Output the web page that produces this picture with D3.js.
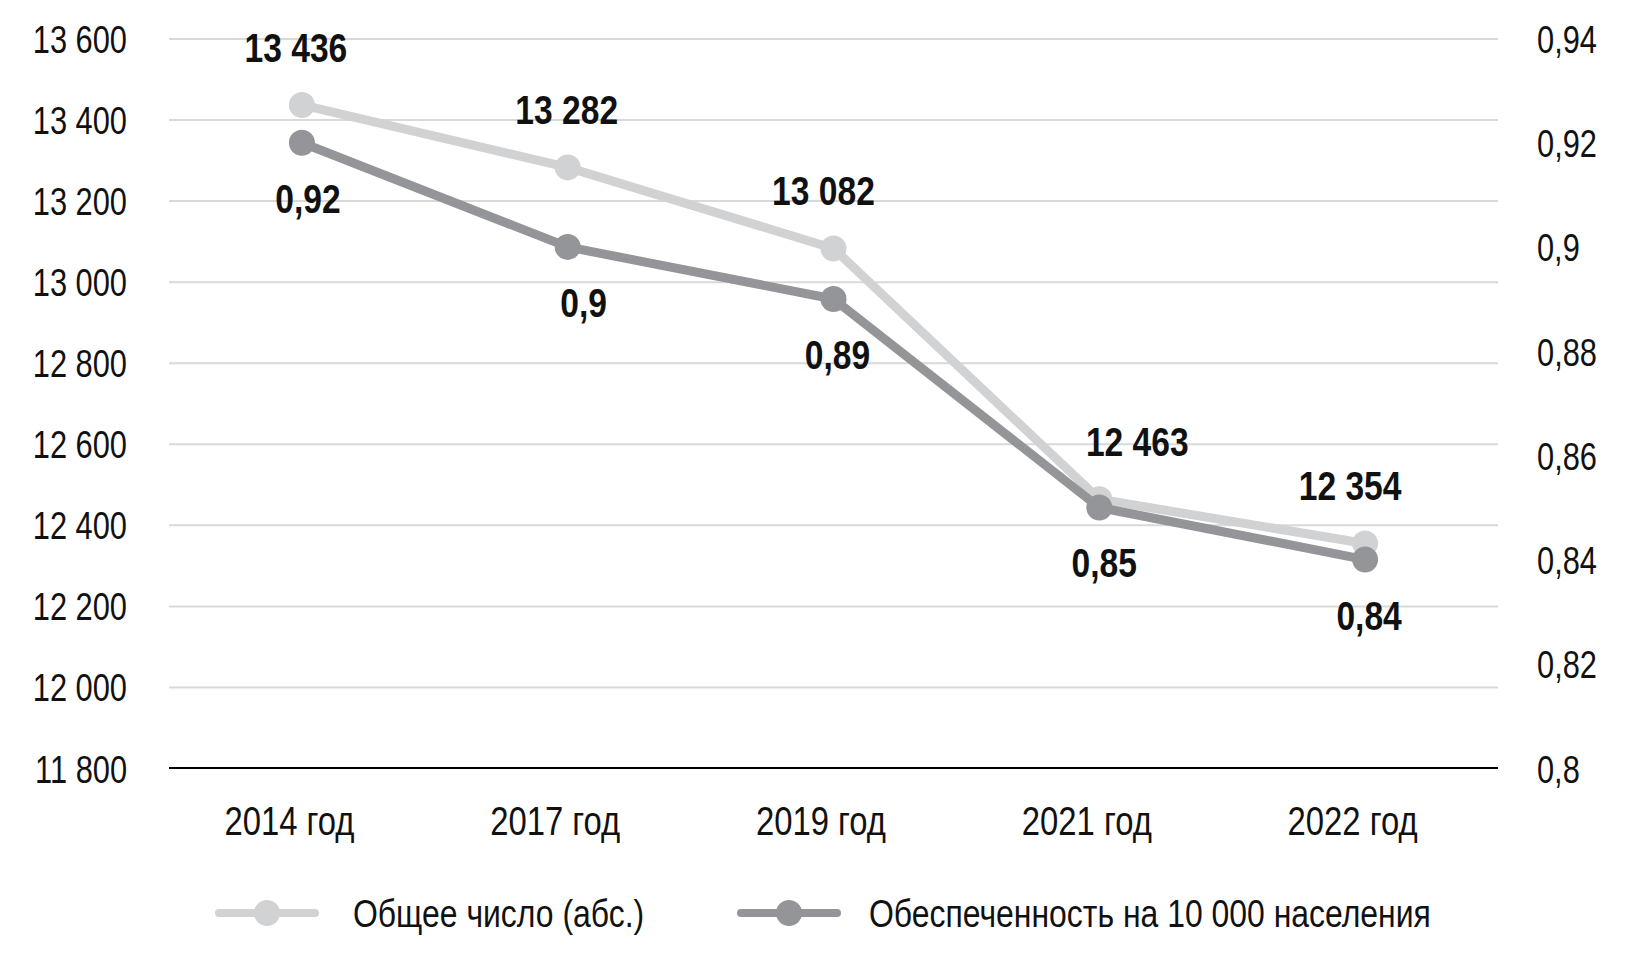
<!DOCTYPE html>
<html>
<head>
<meta charset="utf-8">
<script src="https://cdn.jsdelivr.net/npm/d3@7"></script>
<style>
  body { margin: 0; background: #fff; }
  svg { display: block; font-family: "Liberation Sans", Arial, sans-serif; }
</style>
</head>
<body>
<svg id="chart" width="1626" height="965"></svg>
<script>
// data
const years = ['2014 год', '2017 год', '2019 год', '2021 год', '2022 год'];
const totalCount = [13436, 13282, 13082, 12463, 12354];
const perTenThousand = [0.92, 0.9, 0.89, 0.85, 0.84];
const leftTicks = [11800, 12000, 12200, 12400, 12600, 12800, 13000, 13200, 13400, 13600];
const rightTicks = [0.8, 0.82, 0.84, 0.86, 0.88, 0.9, 0.92, 0.94];
const seriesNames = ['Общее число (абс.)', 'Обеспеченность на 10 000 населения'];

// label nudges, as placed in the original
const totalLabelDx = [-6, -1, -10, 38, -15];
const rateLabelDx = [6, 16, 4, 5, 4];

const colors = { total: '#d1d2d4', rate: '#939598', grid: '#d9d9d9' };

const ru = d3.formatLocale({ decimal: ',', thousands: '\u00a0', grouping: [3], currency: ['', ''] });
const fmtInt = ru.format(',');
const fmtDec = ru.format('~g');

const svg = d3.select('#chart');
const margin = { top: 38.5, right: 128, bottom: 197, left: 169 };
const width = 1626 - margin.left - margin.right;
const height = 965 - margin.top - margin.bottom;

const g = svg.append('g')
  .attr('transform', `translate(${margin.left},${margin.top})`);

const x = d3.scalePoint().domain(years).range([0, width]).padding(0.5);
const yLeft = d3.scaleLinear().domain([11800, 13600]).range([height, 0]);
const yRight = d3.scaleLinear().domain([0.8, 0.94]).range([height, 0]);

const plain = s => s.attr('font-family', null).attr('font-size', null);

// gridlines
g.append('g')
  .attr('class', 'grid')
  .call(d3.axisLeft(yLeft).tickValues(leftTicks.slice(1)).tickSize(-width).tickFormat(''))
  .call(s => s.select('.domain').remove())
  .call(s => s.selectAll('line').attr('stroke', colors.grid).attr('stroke-width', 2));

// left axis labels
g.append('g')
  .call(d3.axisLeft(yLeft).tickValues(leftTicks).tickSize(0).tickPadding(42).tickFormat(fmtInt))
  .call(plain)
  .call(s => s.select('.domain').remove())
  .call(s => s.selectAll('text')
    .attr('font-size', 39).attr('fill', '#111').attr('dy', '0.36em').attr('data-squeeze', 0.79));

// right axis labels
g.append('g')
  .attr('transform', `translate(${width},0)`)
  .call(d3.axisRight(yRight).tickValues(rightTicks).tickSize(0).tickPadding(39).tickFormat(fmtDec))
  .call(plain)
  .call(s => s.select('.domain').remove())
  .call(s => s.selectAll('text')
    .attr('font-size', 39).attr('fill', '#111').attr('dy', '0.36em').attr('data-squeeze', 0.79));

// bottom axis
g.append('g')
  .attr('transform', `translate(0,${height})`)
  .call(d3.axisBottom(x).tickSize(0).tickPadding(0))
  .call(plain)
  .call(s => s.select('.domain').attr('d', `M0,0H${width}`).attr('stroke', '#000').attr('stroke-width', 2))
  .call(s => s.selectAll('text')
    .attr('font-size', 40).attr('fill', '#111')
    .attr('dx', -13).attr('dy', 0).attr('y', 67).attr('data-squeeze', 0.82));

const series = [
  { key: 'total', values: totalCount, y: yLeft, color: colors.total },
  { key: 'rate', values: perTenThousand, y: yRight, color: colors.rate },
];

series.forEach(s => {
  const line = d3.line()
    .x((d, i) => x(years[i]))
    .y(d => s.y(d));
  g.append('path')
    .datum(s.values)
    .attr('fill', 'none')
    .attr('stroke', s.color)
    .attr('stroke-width', 9)
    .attr('stroke-linejoin', 'round')
    .attr('d', line);
  g.selectAll(`.dot-${s.key}`)
    .data(s.values)
    .join('circle')
    .attr('class', `dot-${s.key}`)
    .attr('cx', (d, i) => x(years[i]))
    .attr('cy', d => s.y(d))
    .attr('r', 13)
    .attr('fill', s.color);
});

// value labels
g.selectAll('.lbl-total')
  .data(totalCount)
  .join('text')
  .attr('class', 'lbl-total')
  .attr('x', (d, i) => x(years[i]) + totalLabelDx[i])
  .attr('y', d => yLeft(d) - 43)
  .attr('text-anchor', 'middle')
  .attr('font-size', 40)
  .attr('font-weight', 'bold')
  .attr('fill', '#111')
  .attr('data-squeeze', 0.84)
  .text(fmtInt);

g.selectAll('.lbl-rate')
  .data(perTenThousand)
  .join('text')
  .attr('class', 'lbl-rate')
  .attr('x', (d, i) => x(years[i]) + rateLabelDx[i])
  .attr('y', d => yRight(d) + 70)
  .attr('text-anchor', 'middle')
  .attr('font-size', 40)
  .attr('font-weight', 'bold')
  .attr('fill', '#111')
  .attr('data-squeeze', 0.84)
  .text(fmtDec);

// legend
const legendItems = [
  { name: seriesNames[0], color: colors.total, x: 219 },
  { name: seriesNames[1], color: colors.rate, x: 741 },
];
const legend = svg.append('g').attr('transform', 'translate(0,913)');
const li = legend.selectAll('g').data(legendItems).join('g')
  .attr('transform', d => `translate(${d.x},0)`);
li.append('line')
  .attr('x1', 0).attr('x2', 96).attr('y1', 0).attr('y2', 0)
  .attr('stroke', d => d.color).attr('stroke-width', 8).attr('stroke-linecap', 'round');
li.append('circle')
  .attr('cx', 48).attr('cy', 0).attr('r', 13).attr('fill', d => d.color);
li.append('text')
  .attr('x', (d, i) => (i === 0 ? 134 : 128)).attr('y', 0).attr('dy', '0.36em')
  .attr('font-size', 38).attr('fill', '#111')
  .attr('data-squeeze', 0.84)
  .text(d => d.name);

// no condensed DIN here, so squeeze each label to the original width
svg.selectAll('text').each(function squeeze() {
  const w = this.getComputedTextLength();
  const k = +this.getAttribute('data-squeeze') || 0.8;
  if (w > 0) {
    this.setAttribute('textLength', (w * k).toFixed(1));
    this.setAttribute('lengthAdjust', 'spacingAndGlyphs');
  }
});
</script>
</body>
</html>
